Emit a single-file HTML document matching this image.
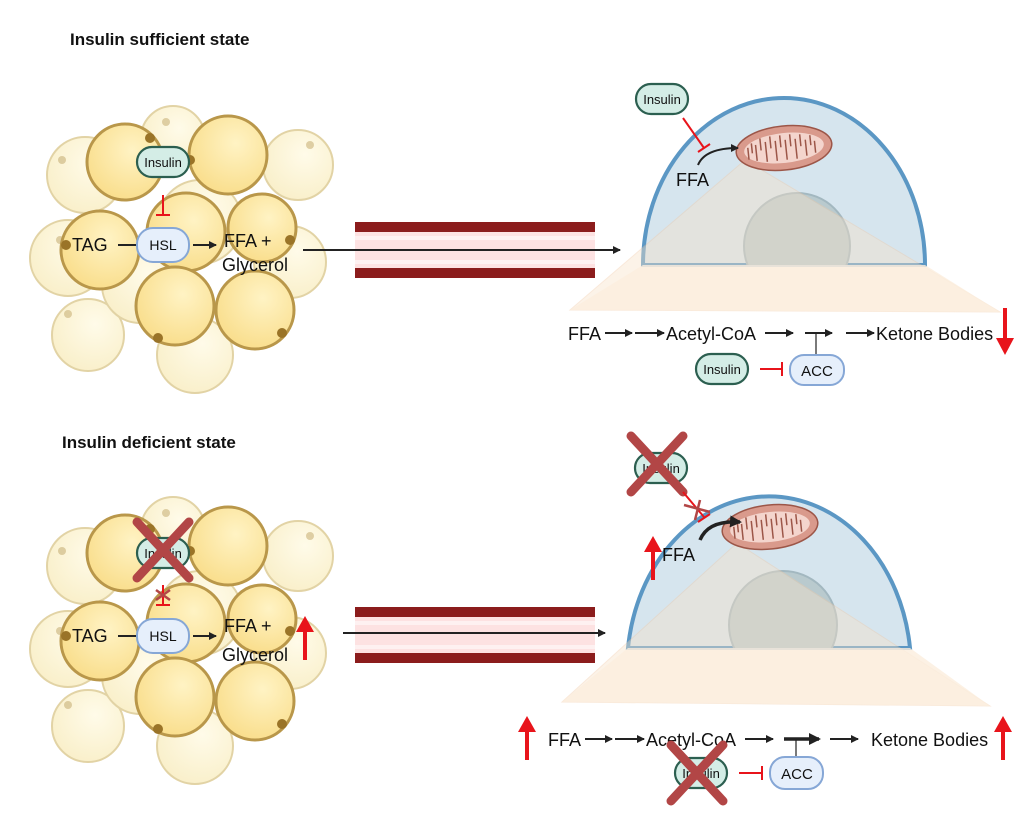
<!DOCTYPE html>
<html><head><meta charset="utf-8"><style>
html,body{margin:0;padding:0;background:#fff;width:1024px;height:828px;overflow:hidden}
svg{display:block}
text{font-family:"Liberation Sans",Arial,sans-serif;fill:#111}
</style></head><body>
<svg width="1024" height="828" viewBox="0 0 1024 828" xmlns="http://www.w3.org/2000/svg">
<defs>
<radialGradient id="gold" cx="0.6" cy="0.35" r="0.7"><stop offset="0" stop-color="#fff3c4"/><stop offset="1" stop-color="#f9dd8a"/></radialGradient>
<radialGradient id="pale" cx="0.6" cy="0.35" r="0.7"><stop offset="0" stop-color="#fffbe9"/><stop offset="1" stop-color="#f9efc9"/></radialGradient>
<marker id="ah" markerWidth="8" markerHeight="8" refX="7" refY="4" orient="auto" markerUnits="userSpaceOnUse"><path d="M0,0 L8,4 L0,8z" fill="#222"/></marker>
<marker id="ahb" markerWidth="12" markerHeight="12" refX="10" refY="6" orient="auto" markerUnits="userSpaceOnUse"><path d="M0,0 L12,6 L0,12z" fill="#222"/></marker>
<clipPath id="c1"><rect x="600" y="0" width="400" height="265"/></clipPath>
<clipPath id="c2"><rect x="600" y="400" width="400" height="248"/></clipPath>
<g id="cells">
 <g fill="url(#pale)" stroke="#e2d3a5" stroke-width="2">
  <circle cx="85" cy="175" r="38"/><circle cx="173" cy="138" r="32"/><circle cx="298" cy="165" r="35"/>
  <circle cx="68" cy="258" r="38"/><circle cx="200" cy="222" r="42"/><circle cx="290" cy="262" r="36"/>
  <circle cx="88" cy="335" r="36"/><circle cx="195" cy="355" r="38"/><circle cx="140" cy="285" r="38"/>
 </g>
 <g fill="#c9b27a" opacity="0.6"><circle cx="62" cy="160" r="4"/><circle cx="166" cy="122" r="4"/><circle cx="310" cy="145" r="4"/><circle cx="60" cy="240" r="4"/><circle cx="68" cy="314" r="4"/></g>
 <g fill="url(#gold)" stroke="#b9974a" stroke-width="3">
  <circle cx="125" cy="162" r="38"/><circle cx="228" cy="155" r="39"/><circle cx="186" cy="232" r="39"/>
  <circle cx="262" cy="228" r="34"/><circle cx="100" cy="250" r="39"/><circle cx="175" cy="306" r="39"/><circle cx="255" cy="310" r="39"/>
 </g>
 <g fill="#9a7428"><circle cx="150" cy="138" r="5"/><circle cx="190" cy="160" r="5"/><circle cx="66" cy="245" r="5"/><circle cx="290" cy="240" r="5"/><circle cx="158" cy="338" r="5"/><circle cx="282" cy="333" r="5"/></g>
</g>
<g id="vessel">
 <rect x="355" y="222" width="240" height="56" fill="#fde2e2"/>
 <rect x="355" y="222" width="240" height="10" fill="#8b1c1c"/>
 <rect x="355" y="268" width="240" height="10" fill="#8b1c1c"/>
 <rect x="355" y="236" width="240" height="4" fill="#fff" opacity="0.5"/>
 <rect x="355" y="260" width="240" height="4" fill="#fff" opacity="0.5"/>
</g>
<g id="mito">
 <ellipse cx="0" cy="0" rx="48" ry="22" fill="#d99a8c" stroke="#9c5648" stroke-width="1.5"/>
 <ellipse cx="0" cy="0" rx="40" ry="15" fill="#f4d5cd"/>
 <path d="M-36,8 v-12 M-28,10 v-16 M-18,12 v-20 M-8,12 v-20 M2,12 v-20 M12,12 v-20 M22,10 v-16 M31,8 v-12 M-32,-8 v10 M-23,-12 v12 M-13,-13 v12 M-3,-13 v12 M7,-13 v12 M17,-12 v12 M27,-10 v10" stroke="#9c5648" stroke-width="1.5" fill="none"/>
</g>
<g id="pill"><rect x="-26" y="-15" width="52" height="30" rx="15" fill="#d4ede6" stroke="#2c5f50" stroke-width="2.2"/><text x="0" y="5" font-size="13" text-anchor="middle">Insulin</text></g>
<g id="cross" stroke="#b24646" stroke-width="9" stroke-linecap="round"><line x1="-26" y1="-28" x2="26" y2="28"/><line x1="26" y1="-28" x2="-26" y2="28"/></g>
<g id="redup"><line x1="0" y1="44" x2="0" y2="14" stroke="#e8141b" stroke-width="4"/><path d="M-9,16 L0,0 L9,16z" fill="#e8141b"/></g>
</defs>

<text x="70" y="45" font-size="17" font-weight="bold">Insulin sufficient state</text>
<text x="62" y="448" font-size="17" font-weight="bold">Insulin deficient state</text>

<!-- TOP LEFT -->
<use href="#cells"/>
<use href="#pill" x="163" y="162"/>
<line x1="163" y1="195" x2="163" y2="215" stroke="#e8141b" stroke-width="2"/><line x1="156" y1="215" x2="170" y2="215" stroke="#e8141b" stroke-width="2"/>
<text x="72" y="251" font-size="18">TAG</text>
<line x1="118" y1="245" x2="137" y2="245" stroke="#222" stroke-width="2"/>
<rect x="137" y="228" width="52" height="34" rx="16" fill="#e6effb" stroke="#86a7d6" stroke-width="2"/><text x="163" y="250" font-size="14" text-anchor="middle">HSL</text>
<line x1="193" y1="245" x2="216" y2="245" stroke="#222" stroke-width="2" marker-end="url(#ah)"/>
<text x="224" y="247" font-size="18">FFA +</text><text x="222" y="271" font-size="18">Glycerol</text>

<!-- TOP VESSEL -->
<use href="#vessel"/>
<line x1="303" y1="250" x2="620" y2="250" stroke="#222" stroke-width="2" marker-end="url(#ah)"/>

<!-- TOP CELL -->
<path d="M643,265 A141,167 0 0 1 925,265 Z" fill="#d6e5ee" stroke="#5b97c4" stroke-width="4"/>
<circle cx="797" cy="246" r="53" fill="#b9cace" stroke="#a3b8c0" stroke-width="2" clip-path="url(#c1)"/>
<polygon points="745,160 570,310 1000,312" fill="#f8e2c8" opacity="0.4" stroke="#f1c9a5" stroke-width="1"/>
<polygon points="570,310 643,265 925,265 1000,312" fill="#fbeedd" opacity="0.8"/>
<use href="#mito" transform="translate(784,148) rotate(-6)"/>
<use href="#pill" x="662" y="99"/>
<line x1="683" y1="118" x2="704" y2="148" stroke="#e8141b" stroke-width="2"/><line x1="698" y1="152" x2="710" y2="144" stroke="#e8141b" stroke-width="2"/>
<path d="M698,165 Q705,148 738,148" fill="none" stroke="#222" stroke-width="2" marker-end="url(#ah)"/>
<text x="676" y="186" font-size="18">FFA</text>

<!-- TOP PATHWAY -->
<g font-size="18">
<text x="568" y="340">FFA</text>
<text x="666" y="340">Acetyl-CoA</text>
<text x="876" y="340">Ketone Bodies</text>
</g>
<g stroke="#222" stroke-width="2">
<line x1="605" y1="333" x2="632" y2="333" marker-end="url(#ah)"/>
<line x1="635" y1="333" x2="664" y2="333" marker-end="url(#ah)"/>
<line x1="765" y1="333" x2="793" y2="333" marker-end="url(#ah)"/>
<line x1="805" y1="333" x2="832" y2="333" marker-end="url(#ah)"/>
<line x1="846" y1="333" x2="874" y2="333" marker-end="url(#ah)"/>
<line x1="816" y1="333" x2="816" y2="356" stroke-width="1.2"/>
</g>
<use href="#pill" x="722" y="369"/>
<line x1="760" y1="369" x2="782" y2="369" stroke="#e8141b" stroke-width="2"/><line x1="782" y1="362" x2="782" y2="376" stroke="#e8141b" stroke-width="2"/>
<rect x="790" y="355" width="54" height="30" rx="14" fill="#e6effb" stroke="#86a7d6" stroke-width="2"/><text x="817" y="376" font-size="15" text-anchor="middle">ACC</text>
<line x1="1005" y1="308" x2="1005" y2="340" stroke="#e8141b" stroke-width="4"/><path d="M996,338 L1005,355 L1014,338z" fill="#e8141b"/>

<!-- BOTTOM LEFT -->
<use href="#cells" y="391"/>
<use href="#pill" x="163" y="553"/>
<use href="#cross" x="163" y="550"/>
<line x1="163" y1="585" x2="163" y2="605" stroke="#e8141b" stroke-width="2"/><line x1="156" y1="605" x2="170" y2="605" stroke="#e8141b" stroke-width="2"/>
<line x1="156" y1="590" x2="170" y2="600" stroke="#b24646" stroke-width="2.5"/><line x1="170" y1="590" x2="156" y2="600" stroke="#b24646" stroke-width="2.5"/>
<text x="72" y="642" font-size="18">TAG</text>
<line x1="118" y1="636" x2="137" y2="636" stroke="#222" stroke-width="2"/>
<rect x="137" y="619" width="52" height="34" rx="16" fill="#e6effb" stroke="#86a7d6" stroke-width="2"/><text x="163" y="641" font-size="14" text-anchor="middle">HSL</text>
<line x1="193" y1="636" x2="216" y2="636" stroke="#222" stroke-width="2" marker-end="url(#ah)"/>
<text x="224" y="632" font-size="18">FFA +</text><text x="222" y="661" font-size="18">Glycerol</text>
<use href="#redup" x="305" y="616"/>

<!-- BOTTOM VESSEL -->
<use href="#vessel" y="385"/>
<line x1="343" y1="633" x2="605" y2="633" stroke="#222" stroke-width="2" marker-end="url(#ah)"/>

<!-- BOTTOM CELL -->
<path d="M628,648 A142,172 0 0 1 910,648 Z" fill="#d6e5ee" stroke="#5b97c4" stroke-width="4"/>
<circle cx="783" cy="625" r="54" fill="#b9cace" stroke="#a3b8c0" stroke-width="2" clip-path="url(#c2)"/>
<polygon points="737,543 562,702 990,706" fill="#f8e2c8" opacity="0.4" stroke="#f1c9a5" stroke-width="1"/>
<polygon points="562,702 628,648 910,648 990,706" fill="#fbeedd" opacity="0.8"/>
<use href="#mito" transform="translate(770,527) rotate(-6)"/>
<use href="#pill" x="661" y="468"/>
<use href="#cross" x="657" y="464"/>
<line x1="683" y1="492" x2="704" y2="517" stroke="#e8141b" stroke-width="2"/><line x1="698" y1="522" x2="710" y2="514" stroke="#e8141b" stroke-width="2"/>
<line x1="684" y1="505" x2="710" y2="512" stroke="#b24646" stroke-width="2.5"/><line x1="695" y1="520" x2="700" y2="500" stroke="#b24646" stroke-width="2.5"/>
<path d="M700,540 Q708,520 740,522" fill="none" stroke="#222" stroke-width="3.5" marker-end="url(#ahb)"/>
<use href="#redup" x="653" y="536"/>
<text x="662" y="561" font-size="18">FFA</text>

<!-- BOTTOM PATHWAY -->
<use href="#redup" x="527" y="716"/>
<g font-size="18">
<text x="548" y="746">FFA</text>
<text x="646" y="746">Acetyl-CoA</text>
<text x="871" y="746">Ketone Bodies</text>
</g>
<g stroke="#222" stroke-width="2">
<line x1="585" y1="739" x2="612" y2="739" marker-end="url(#ah)"/>
<line x1="615" y1="739" x2="644" y2="739" marker-end="url(#ah)"/>
<line x1="745" y1="739" x2="773" y2="739" marker-end="url(#ah)"/>
<line x1="784" y1="739" x2="819" y2="739" stroke-width="3.5" marker-end="url(#ahb)"/>
<line x1="830" y1="739" x2="858" y2="739" marker-end="url(#ah)"/>
<line x1="796" y1="739" x2="796" y2="758" stroke-width="1.2"/>
</g>
<use href="#pill" x="701" y="773"/>
<use href="#cross" x="697" y="773"/>
<line x1="739" y1="773" x2="762" y2="773" stroke="#e8141b" stroke-width="2"/><line x1="762" y1="766" x2="762" y2="780" stroke="#e8141b" stroke-width="2"/>
<rect x="770" y="757" width="53" height="32" rx="15" fill="#e6effb" stroke="#86a7d6" stroke-width="2"/><text x="797" y="779" font-size="15" text-anchor="middle">ACC</text>
<use href="#redup" x="1003" y="716"/>
</svg>
</body></html>
